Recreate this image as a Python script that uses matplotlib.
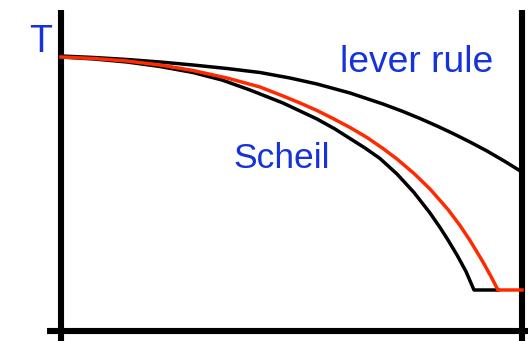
import matplotlib
matplotlib.use("Agg")
import matplotlib.pyplot as plt

# Data (pixel positions -> fraction solid / temperature)
def fx(px):
    return (px - 61) / 461.0

def ty(py):
    return (331 - py) / 321.0

lever_px = [(61, 56), (94, 57.5), (127, 59.5), (160, 62), (193, 65), (227, 68.5),
            (260, 72.5), (290, 78), (317, 84), (350, 93), (383, 104), (403, 111.5),
            (420, 118.5), (437, 126), (453, 133.5), (470, 142), (487, 151),
            (505, 161.5), (522, 172)]
scheil_px = [(61, 57), (94, 59), (127, 62), (160, 66.5), (193, 72.5), (222, 80),
             (250, 90), (283, 103), (317, 119), (335, 129), (350, 138.5),
             (365, 148), (380, 158.5), (397, 174), (414, 192.5), (430, 213),
             (440, 227.5), (448, 240), (457, 255), (466, 271.5), (474, 290), (498, 290)]
red_px = [(61, 57), (94, 58.5), (127, 61), (160, 65), (193, 70.5), (227, 78),
          (260, 87), (283, 96), (300, 103), (317, 110.5), (333, 118.5), (350, 127.5),
          (367, 137.5), (383, 148.5), (397, 159), (414, 173.5), (430, 189),
          (448, 209.5), (460, 225.5), (470, 240.5), (483, 262), (491, 276.5),
          (498, 290), (522, 290)]

lever_x = [fx(p[0]) for p in lever_px]
lever_T = [ty(p[1]) for p in lever_px]
scheil_x = [fx(p[0]) for p in scheil_px]
scheil_T = [ty(p[1]) for p in scheil_px]
red_x = [fx(p[0]) for p in red_px]
red_T = [ty(p[1]) for p in red_px]

W, H = 528, 341
fig = plt.figure(figsize=(W / 100, H / 100), dpi=100)
ax = fig.add_axes([0, 0, 1, 1])
ax.set_xlim(fx(0), fx(W))
ax.set_ylim(ty(H), ty(0))
ax.axis("off")

# frame lines
ax.plot([0, 0], [ty(10), ty(345)], color="black", lw=4.4, clip_on=False, solid_capstyle="butt")
ax.plot([1, 1], [ty(10), ty(345)], color="black", lw=4.4, clip_on=False, solid_capstyle="butt")
ax.plot([fx(47), fx(532)], [0, 0], color="black", lw=4.4, clip_on=False, solid_capstyle="butt")

ax.plot(lever_x, lever_T, color="black", lw=2.5, solid_joinstyle="round")
ax.plot(scheil_x, scheil_T, color="black", lw=2.5, solid_joinstyle="round")
ax.plot(red_x, red_T, color="#ff2a00", lw=2.5, solid_joinstyle="round")

blue = "#1533d9"
font = "Liberation Sans"
ax.text(fx(29), ty(52), "T", color=blue, fontsize=27, family=font, va="baseline", ha="left")
ax.text(fx(340), ty(72), "lever rule", color=blue, fontsize=26.8, family=font, va="baseline", ha="left")
ax.text(fx(233), ty(168), "Scheil", color=blue, fontsize=25.5, family=font, va="baseline", ha="left")

fig.savefig("out.png", dpi=100)
